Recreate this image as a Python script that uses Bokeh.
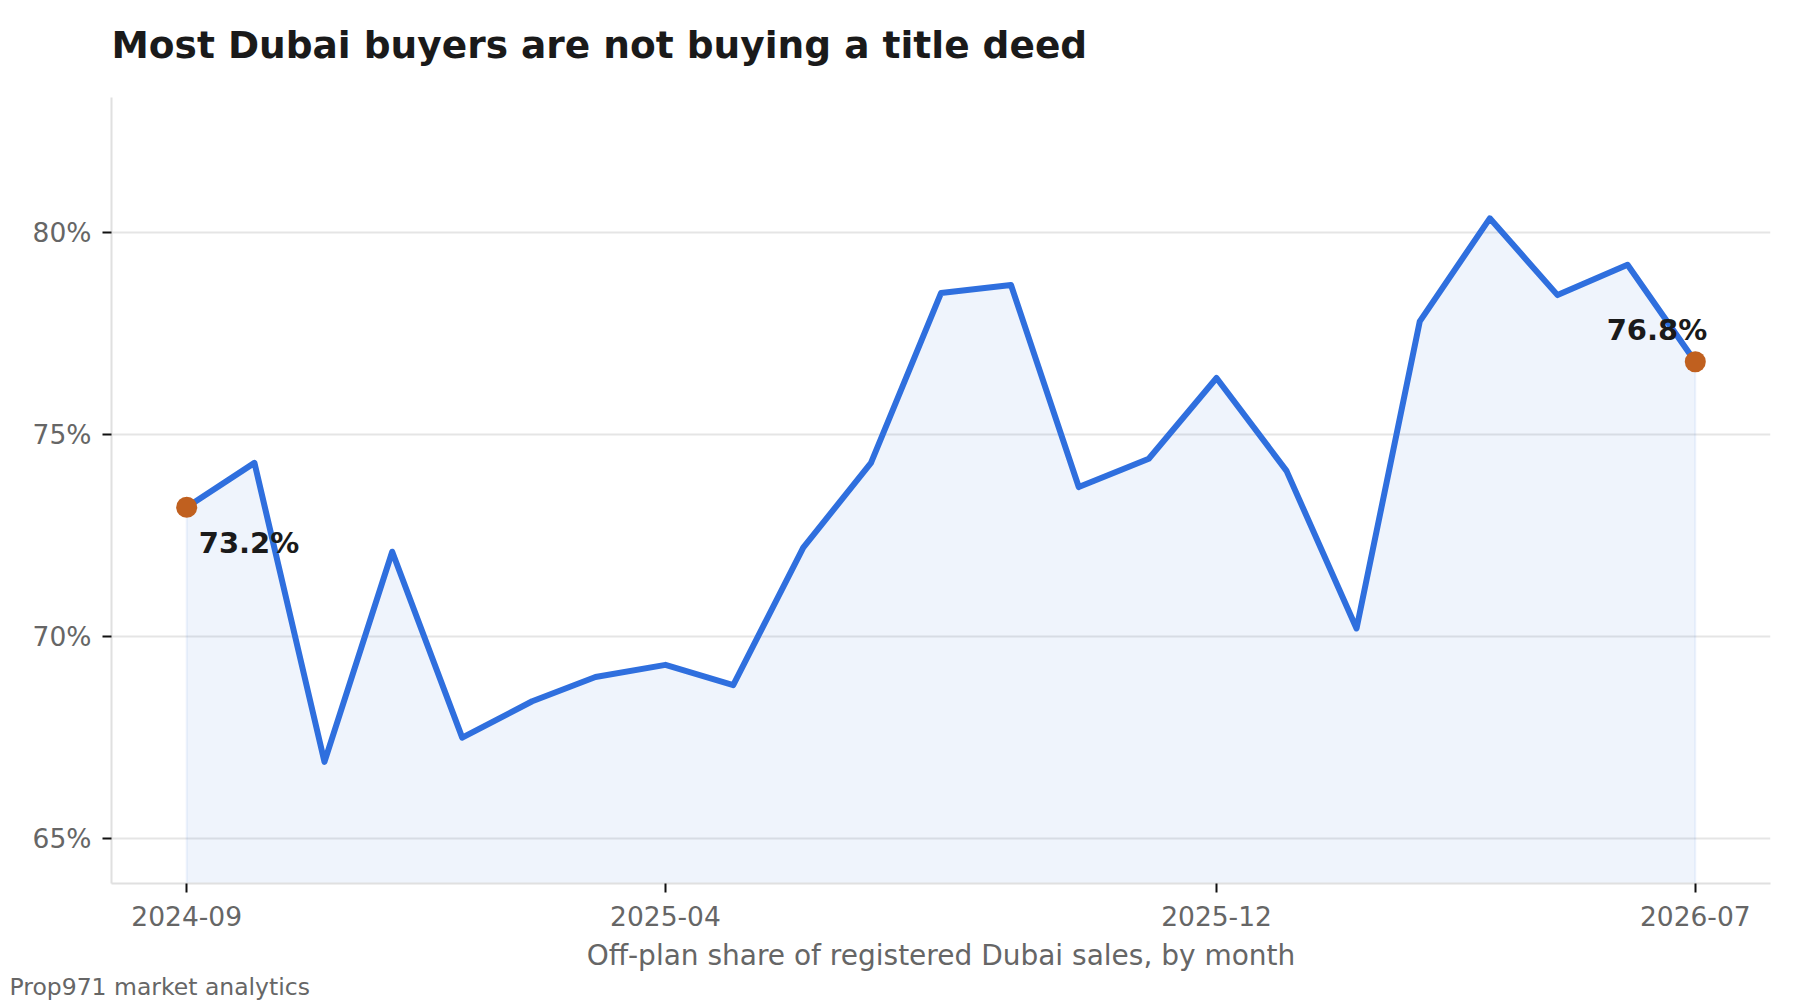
import pandas as pd
from bokeh.plotting import figure
from bokeh.models import (FixedTicker, DatetimeTickFormatter, PrintfTickFormatter,
                          Title, Range1d, ColumnDataSource)
from bokeh.core.properties import value
from bokeh.embed import file_html
from bokeh.resources import INLINE

# ---- data ----
months = ["2024-09", "2024-10", "2024-11", "2024-12", "2025-01", "2025-02",
          "2025-03", "2025-04", "2025-05", "2025-06", "2025-07", "2025-08",
          "2025-09", "2025-10", "2025-11", "2025-12", "2026-01", "2026-02",
          "2026-03", "2026-04", "2026-05", "2026-06", "2026-07"]
offplan_share = [73.2, 74.3, 66.9, 72.1, 67.5, 68.4, 69.0, 69.3, 68.8, 72.2,
                 74.3, 78.5, 78.7, 73.7, 74.4, 76.4, 74.1, 70.2, 77.8, 80.35,
                 78.45, 79.2, 76.8]
x_tick_labels = ["2024-09", "2025-04", "2025-12", "2026-07"]
y_ticks = [65, 70, 75, 80]
title_text = "Most Dubai buyers are not buying a title deed"
x_label = "Off-plan share of registered Dubai sales, by month"
footer_text = "Prop971 market analytics"

FONT = "DejaVu Sans"
BLUE = "#2f6fde"
ORANGE = "#c0601f"
GRAY = "#666666"
DARK = "#1a1a1a"

dates = pd.to_datetime(months)
y_min, y_max = 63.89, 83.34
pad = pd.Timedelta(days=33.3)

p = figure(width=1788, height=1000, x_axis_type="datetime", title=None,
           x_range=Range1d(dates[0] - pad, dates[-1] + pad),
           y_range=Range1d(y_min, y_max),
           output_backend="svg", toolbar_location=None,
           min_border_left=111, min_border_right=18,
           min_border_top=97, min_border_bottom=117)

p.outline_line_color = None
p.background_fill_color = "white"
p.border_fill_color = "white"

# title (a thin spacer sits between the frame and the title)
p.add_layout(Title(text=" ", text_font_size="1px", standoff=28), "above")
p.add_layout(Title(text=title_text, align="left", text_font=FONT,
                   text_font_size="37.5px", text_font_style="bold",
                   text_color=DARK, standoff=0), "above")

# grids
p.xgrid.grid_line_color = None
p.ygrid.grid_line_color = "#e5e5e5"
p.ygrid.grid_line_width = 2
p.ygrid.ticker = FixedTicker(ticks=y_ticks)

# axes
for ax in (p.xaxis[0], p.yaxis[0]):
    ax.axis_line_color = "#e0e0e0"
    ax.axis_line_width = 2
    ax.major_tick_line_color = "#111111"
    ax.major_tick_line_width = 2
    ax.major_tick_out = 9
    ax.major_tick_in = 0
    ax.minor_tick_line_color = None
    ax.major_label_text_font = FONT
    ax.major_label_text_font_size = "26.5px"
    ax.major_label_text_color = GRAY

tick_ms = [pd.Timestamp(t).timestamp() * 1000 for t in x_tick_labels]
p.xaxis.ticker = FixedTicker(ticks=tick_ms)
p.xaxis.formatter = DatetimeTickFormatter(months="%Y-%m", days="%Y-%m",
                                          years="%Y-%m", hours="%Y-%m")
p.xaxis.major_label_standoff = 13
p.xaxis.axis_label = x_label
p.xaxis.axis_label_text_font = FONT
p.xaxis.axis_label_text_font_size = "28px"
p.xaxis.axis_label_text_font_style = "normal"
p.xaxis.axis_label_text_color = GRAY
p.xaxis.axis_label_standoff = 10

p.yaxis.ticker = FixedTicker(ticks=y_ticks)
p.yaxis.formatter = PrintfTickFormatter(format="%d%%")
p.yaxis.major_label_standoff = 11

# footer
p.add_layout(Title(text=footer_text, align="left",
                   text_font=FONT, text_font_size="23.5px",
                   text_font_style="normal", text_color=GRAY,
                   offset=-102, standoff=-7), "below")

# area + line
src = ColumnDataSource(dict(x=dates, y=offplan_share,
                            base=[y_min] * len(offplan_share)))
p.varea(x="x", y1="base", y2="y", source=src, fill_color=BLUE, fill_alpha=0.08)
p.segment(x0=[dates[0], dates[-1]], y0=[y_min, y_min],
          x1=[dates[0], dates[-1]], y1=[offplan_share[0], offplan_share[-1]],
          line_color=BLUE, line_alpha=0.08, line_width=2)
p.line(x="x", y="y", source=src, line_color=BLUE, line_width=6,
       line_join="round", line_cap="round")

# end markers
ends = ColumnDataSource(dict(x=[dates[0], dates[-1]],
                             y=[offplan_share[0], offplan_share[-1]]))
p.scatter(x="x", y="y", source=ends, size=21, fill_color=ORANGE,
          line_color=None)

first = ColumnDataSource(dict(x=[dates[0]], y=[offplan_share[0]],
                              t=[f"{offplan_share[0]:.1f}%"]))
last = ColumnDataSource(dict(x=[dates[-1]], y=[offplan_share[-1]],
                             t=[f"{offplan_share[-1]:.1f}%"]))
p.text(x="x", y="y", text="t", source=first, text_font=value(FONT),
       text_font_size="29px", text_font_style="bold", text_color=DARK,
       text_align="left", text_baseline="alphabetic", x_offset=12, y_offset=36)
p.text(x="x", y="y", text="t", source=last, text_font=value(FONT),
       text_font_size="29px", text_font_style="bold", text_color=DARK,
       text_align="right", text_baseline="alphabetic", x_offset=12, y_offset=-32)

open("out.html", "w").write(file_html(p, INLINE))
